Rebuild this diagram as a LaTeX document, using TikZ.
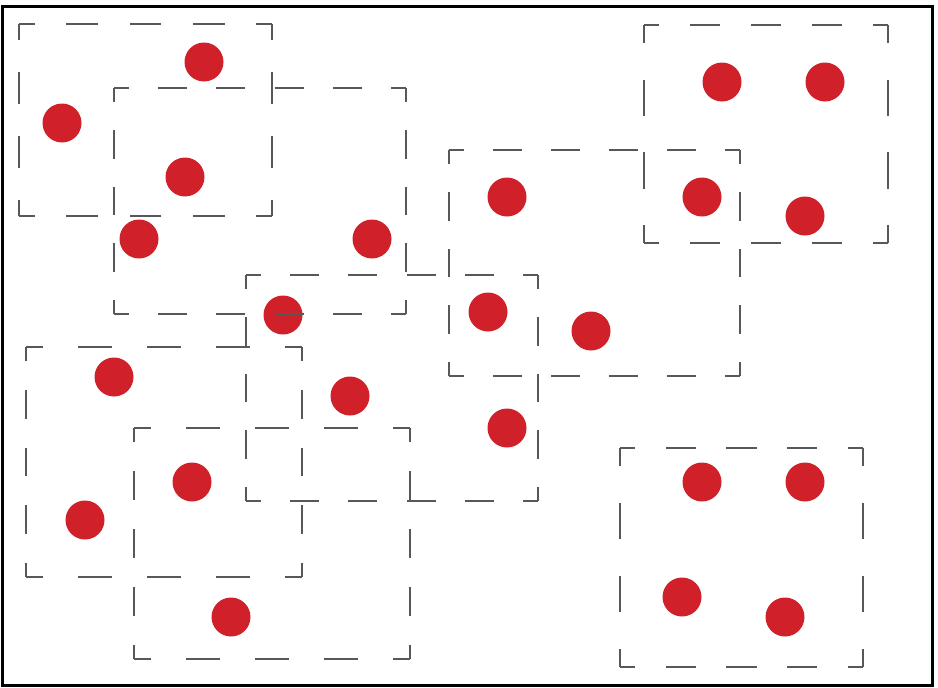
\documentclass[tikz,border=0pt]{standalone}
\usetikzlibrary{positioning}
\definecolor{dotred}{RGB}{208,33,42}
\definecolor{boxgray}{RGB}{88,88,88}

% one side of a window, dashes fitted so that each corner gets half a dash
\newcommand{\winside}[4]{%
  \pgfmathsetmacro\sidelen{veclen(#3-#1,#4-#2)}%
  \pgfmathsetmacro\dashon{\sidelen/(2*max(1,round(\sidelen/63)))}%
  \pgfmathsetmacro\dashph{\dashon/2}%
  \draw[boxline,dash pattern=on \dashon pt off \dashon pt,dash phase=\dashph pt] (#1,#2) -- (#3,#4);}
\newcommand{\winbox}[4]{%
  \winside{#1}{#2}{#3}{#2}\winside{#3}{#2}{#3}{#4}%
  \winside{#3}{#4}{#1}{#4}\winside{#1}{#4}{#1}{#2}}

\begin{document}
\begin{tikzpicture}[x=1pt,y=-1pt,
      dot/.style={circle,fill=dotred,inner sep=0pt,minimum size=39pt},
      boxline/.style={draw=boxgray,line width=1.8pt},
      frame/.style={draw=black,line width=3pt}
    ]
    \useasboundingbox (0,0) rectangle (938,688);
    \draw[frame] (2.5,6) rectangle (932,685);

    % points
    \foreach \n/\x/\y in {1/204/62, 2/62/123, 3/185/177, 4/139/239, 5/372/239,
        6/283/315, 7/507/197, 8/488/312, 9/591/331, 10/507/428, 11/350/396,
        12/114/377, 13/85/520, 14/192/482, 15/231/617, 16/722/82, 17/825/82,
        18/702/197, 19/805/216, 20/702/482, 21/805/482, 22/682/597, 23/785/617}
      \node[dot] (d\n) at (\x,\y) {};

    % windows
    \foreach \xa/\ya/\xb/\yb in {19/24/272/216, 114/88/406/314, 246/275/538/501,
        449/150/740/376, 644/25/888/243, 26/347/302/577, 134/428/410/659,
        620/448/863/667}
      \winbox{\xa}{\ya}{\xb}{\yb};
  \end{tikzpicture}
\end{document}
